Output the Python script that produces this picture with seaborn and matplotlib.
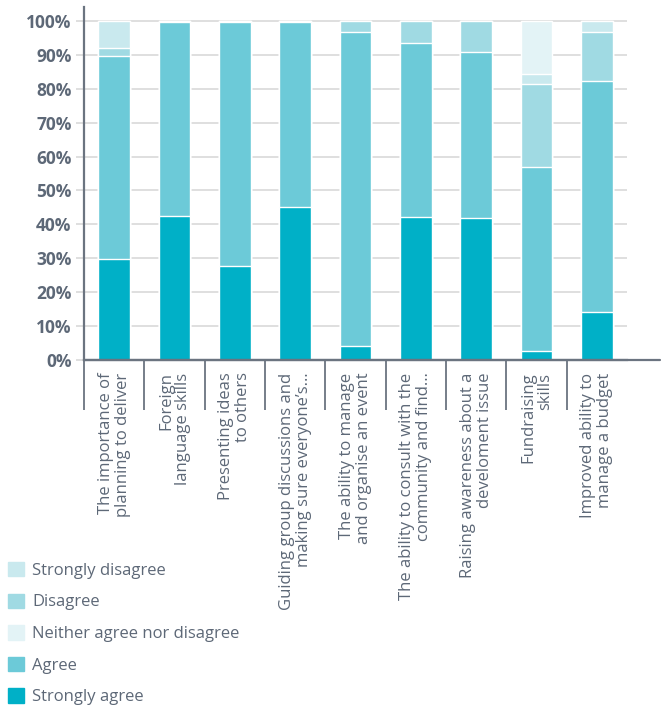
import pandas as pd
import seaborn as sns
import matplotlib.pyplot as plt

# skills categories (labels keep the truncation of the original)
skills = ["The importance of\nplanning to deliver",
          "Foreign\nlanguage skills",
          "Presenting ideas\nto others",
          "Guiding group discussions and\nmaking sure everyone\u2019s\u2026",
          "The ability to manage\nand organise an event",
          "The ability to consult with the\ncommunity and find\u2026",
          "Raising awareness about a\ndeveloment issue",
          "Fundraising\nskills",
          "Improved ability to\nmanage a budget"]

# percentages, in stacking order from the bottom
strongly_agree = [29.7, 42.6, 27.8, 45.0, 4.1, 42.3, 42.0, 2.6, 14.2]
agree = [59.9, 57.0, 71.8, 54.8, 92.6, 51.2, 48.8, 54.2, 68.0]
disagree = [2.4, 0.4, 0.4, 0.2, 3.3, 6.5, 9.2, 24.6, 14.5]
strongly_disagree = [8.0, 0, 0, 0, 0, 0, 0, 2.9, 3.3]
neither = [0, 0, 0, 0, 0, 0, 0, 15.7, 0]

levels = ["Strongly agree", "Agree", "Disagree", "Strongly disagree",
          "Neither agree nor disagree"]
colors = {"Strongly agree": "#00b0c7",
          "Agree": "#6ccad8",
          "Disagree": "#a0dae3",
          "Strongly disagree": "#c9e9ee",
          "Neither agree nor disagree": "#e3f3f6"}

df = pd.DataFrame({"skill": skills,
                   "Strongly agree": strongly_agree,
                   "Agree": agree,
                   "Disagree": disagree,
                   "Strongly disagree": strongly_disagree,
                   "Neither agree nor disagree": neither})
cum = df[levels].cumsum(axis=1)
cum["skill"] = df["skill"]

sns.set_style("white")
plt.rcParams["font.family"] = ["Open Sans", "DejaVu Sans"]

fig = plt.figure(figsize=(6.61, 7.09), dpi=100)
ax = fig.add_axes([84 / 661, 1 - 360 / 709, 543 / 661, 353 / 709])

grey = "#5d6877"
# draw cumulative totals, tallest first so each layer sits on top of the next
for lev in reversed(levels):
    sns.barplot(data=cum, x="skill", y=lev, color=colors[lev], width=0.52,
                saturation=1, ax=ax, zorder=2)

ax.set_ylim(0, 104.1)
ax.set_xlim(-0.5, 8.5)
ax.set_yticks(range(0, 101, 10))
ax.set_yticklabels([f"{v}%" for v in range(0, 101, 10)],
                   fontsize=12.5, fontweight="bold", color=grey)
ax.yaxis.grid(True, color="#dcdcdc", linewidth=1.3, zorder=0)
ax.set_axisbelow(True)
ax.tick_params(axis="y", length=6, color="#dcdcdc", width=1.3, pad=3, left=True)

ax.set_xticks(range(len(skills)))
ax.set_xticklabels(skills, rotation=90, fontsize=12, color=grey,
                   ha="right", va="center", linespacing=1.08,
                   rotation_mode="anchor")
ax.tick_params(axis="x", length=0, pad=9)
ax.set_xticks([i - 0.5 for i in range(9)], minor=True)
ax.tick_params(axis="x", which="minor", length=36, color="#6b7480", width=1.3,
               bottom=True)
ax.set_xlabel("")
ax.set_ylabel("")

for s in ["top", "right"]:
    ax.spines[s].set_visible(False)
for s in ["left", "bottom"]:
    ax.spines[s].set_color("#6b7480")
    ax.spines[s].set_linewidth(1.6)
ax.plot([0, 1.06], [0, 0], transform=ax.transAxes, color="#6b7480",
        linewidth=1.6, clip_on=False, zorder=5)

legend_order = ["Strongly disagree", "Disagree", "Neither agree nor disagree",
                "Agree", "Strongly agree"]
handles = [plt.Rectangle((0, 0), 1, 1, color=colors[l]) for l in legend_order]
leg = fig.legend(handles, legend_order, loc="upper left",
                 bbox_to_anchor=(3 / 661, 1 - 557 / 709), frameon=False,
                 fontsize=12, handlelength=0.95, handleheight=0.95,
                 handletextpad=0.5, labelspacing=0.88, borderaxespad=0,
                 borderpad=0.3)
for t in leg.get_texts():
    t.set_color(grey)

fig.savefig("out.png", dpi=100)
